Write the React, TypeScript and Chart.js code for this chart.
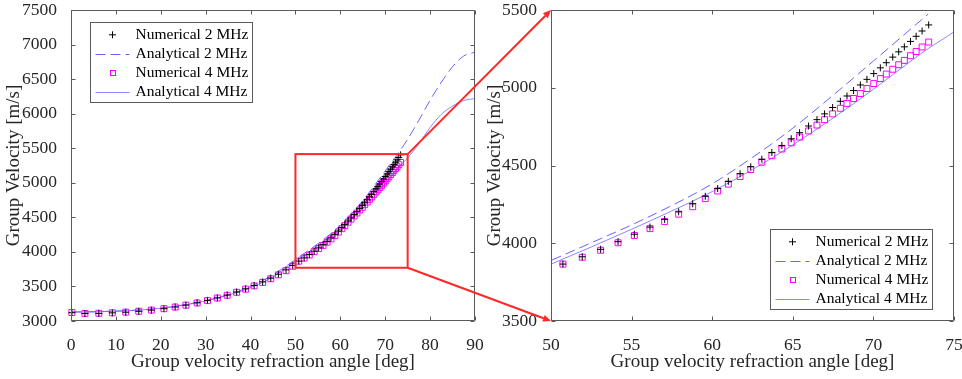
import React, { useEffect, useRef } from "react";
import { Chart, registerables } from "chart.js";
Chart.register(...registerables);

// ---------- data ----------
const seriesLabels = ["Numerical 2 MHz", "Analytical 2 MHz", "Numerical 4 MHz", "Analytical 4 MHz"];

const numAngle = [0.2, 3.1, 6.2, 9.2, 12.2, 15.1, 17.9, 20.7, 23.2, 25.6, 28.1, 30.4, 32.6, 34.8, 36.9, 38.9, 40.8, 42.7, 44.5, 46.2, 47.9, 49.4,
  50.74, 51.94, 53.08, 54.16, 55.17, 56.14, 57.05, 57.92, 58.79, 59.57, 60.34,
  61.0, 61.73, 62.39, 63.08, 63.7, 64.32, 64.9, 65.42, 65.98, 66.5, 66.97, 67.47, 67.95, 68.36, 68.77, 69.19, 69.6, 70.02, 70.43, 70.8, 71.2, 71.57, 71.92, 72.3, 72.65, 73.02, 73.43];

const num2MHz = [3120, 3108, 3110, 3118, 3127, 3140, 3157, 3178, 3203, 3230, 3263, 3298, 3335, 3376, 3420, 3466, 3514, 3566, 3620, 3677, 3740, 3804,
  3866, 3913, 3961, 4010, 4058, 4104, 4153, 4202, 4254, 4302, 4352,
  4398, 4447, 4492, 4540, 4584, 4629, 4672, 4711, 4754, 4795, 4832, 4873, 4913, 4947, 4982, 5018, 5054, 5091, 5128, 5161, 5197, 5231, 5263, 5298, 5331, 5365, 5404];

const num4MHz = [3122, 3110, 3112, 3119, 3128, 3141, 3158, 3178, 3202, 3229, 3261, 3295, 3332, 3372, 3415, 3461, 3508, 3558, 3611, 3667, 3728, 3792,
  3866, 3910, 3955, 4003, 4050, 4094, 4140, 4187, 4235, 4287, 4336,
  4380, 4429, 4474, 4521, 4563, 4606, 4646, 4683, 4722, 4760, 4795, 4832, 4868, 4899, 4931, 4963, 4995, 5027, 5059, 5088, 5119, 5148, 5176, 5206, 5233, 5262, 5294];

const anaAngle = [0, 2.5, 5, 7.5, 10, 12.5, 15, 17.5, 20, 22.5, 25, 27.5, 30, 32.5, 35, 37.5, 40, 42.5, 45, 47.5, 50, 52.5, 55, 57.5, 60, 62.5, 65, 67.5, 70, 72.5, 73.4, 75, 77.5, 80, 82.5, 85, 87.5, 90];
const ana2MHz = [3131, 3132, 3134, 3138, 3143, 3150, 3159, 3171, 3187, 3207, 3232, 3262, 3296, 3334, 3380, 3435, 3500, 3578, 3668, 3775, 3889, 4003, 4118, 4243, 4382, 4552, 4740, 4952, 5172, 5394, 5474, 5630, 5905, 6195, 6455, 6680, 6835, 6890];
const ana4MHz = [3129, 3130, 3132, 3136, 3141, 3148, 3157, 3169, 3184, 3203, 3227, 3256, 3289, 3328, 3373, 3424, 3482, 3555, 3640, 3750, 3866, 3976, 4090, 4208, 4332, 4474, 4632, 4805, 4990, 5185, 5252, 5360, 5565, 5800, 5990, 6110, 6190, 6220];

const mainXTicks = [0, 10, 20, 30, 40, 50, 60, 70, 80, 90];
const mainYTicks = [3000, 3500, 4000, 4500, 5000, 5500, 6000, 6500, 7000, 7500];
const zoomXTicks = [50, 55, 60, 65, 70, 75];
const zoomYTicks = [3500, 4000, 4500, 5000, 5500];

const zoomBoxX = [50, 75];
const zoomBoxY = [3770, 5415];
const zoomDashedEnd = 73.4;

const xTitle = "Group velocity refraction angle [deg]";
const yTitle = "Group Velocity [m/s]";

// ---------- styles ----------
const FONT = '"Liberation Serif", "Times New Roman", serif';
const AXIS_COLOR = "#262626";
const FRAME_COLOR = "#5a5a5a";
const RED = "rgb(255,40,40)";
const DASH_COLOR = "rgb(100,100,255)";
const SOLID_COLOR = "rgb(135,135,255)";
const SQUARE_COLOR = "#ff00ff";
const CROSS_COLOR = "#000000";

const pts = (xs: number[], ys: number[], maxX = Infinity) =>
  xs.map((x, i) => ({ x, y: ys[i] })).filter((p) => p.x <= maxX);

function buildDatasets(dashedMax: number) {
  return [
    {
      label: seriesLabels[0], data: pts(numAngle, num2MHz), showLine: false,
      pointStyle: "cross", pointRadius: 3.5, pointBorderWidth: 1, borderColor: CROSS_COLOR,
      pointBorderColor: CROSS_COLOR, backgroundColor: CROSS_COLOR, clip: false, order: 0,
    },
    {
      label: seriesLabels[1], data: pts(anaAngle, ana2MHz, dashedMax), showLine: true,
      pointRadius: 0, borderColor: DASH_COLOR, borderWidth: 1, borderDash: [10, 5],
      cubicInterpolationMode: "monotone", fill: false, order: 2,
    },
    {
      label: seriesLabels[2], data: pts(numAngle, num4MHz), showLine: false,
      pointStyle: "rect", pointRadius: 4.2, pointBorderWidth: 1, borderColor: SQUARE_COLOR,
      pointBorderColor: SQUARE_COLOR, backgroundColor: "rgba(0,0,0,0)", pointBackgroundColor: "rgba(0,0,0,0)", clip: false, order: 1,
    },
    {
      label: seriesLabels[3], data: pts(anaAngle, ana4MHz), showLine: true,
      pointRadius: 0, borderColor: SOLID_COLOR, borderWidth: 1,
      cubicInterpolationMode: "monotone", fill: false, order: 3,
    },
  ];
}

const framePlugin = {
  id: "frame",
  afterDatasetsDraw(chart: any) {
    const { ctx, chartArea: ca, scales } = chart;
    const L = Math.round(ca.left) + 0.5, R = Math.round(ca.right) - 0.5;
    const T = Math.round(ca.top) + 0.5, B = Math.round(ca.bottom) - 0.5;
    ctx.save();
    ctx.strokeStyle = FRAME_COLOR;
    ctx.lineWidth = 1;
    ctx.beginPath();
    ctx.rect(L, T, R - L, B - T);
    const tl = 4;
    for (const t of scales.x.ticks) {
      const px = Math.round(scales.x.getPixelForValue(t.value)) + 0.5;
      ctx.moveTo(px, B); ctx.lineTo(px, B - tl);
      ctx.moveTo(px, T); ctx.lineTo(px, T + tl);
    }
    for (const t of scales.y.ticks) {
      const py = Math.round(scales.y.getPixelForValue(t.value)) + 0.5;
      ctx.moveTo(L, py); ctx.lineTo(L + tl, py);
      ctx.moveTo(R, py); ctx.lineTo(R - tl, py);
    }
    ctx.stroke();
    ctx.restore();
  },
};

const boxPlugin = {
  id: "zoombox",
  afterDatasetsDraw(chart: any) {
    if (!chart.options.plugins.zoombox?.show) return;
    const { ctx, scales } = chart;
    const x0 = scales.x.getPixelForValue(zoomBoxX[0]);
    const x1 = scales.x.getPixelForValue(zoomBoxX[1]);
    const y0 = scales.y.getPixelForValue(zoomBoxY[1]);
    const y1 = scales.y.getPixelForValue(zoomBoxY[0]);
    ctx.save();
    ctx.strokeStyle = RED;
    ctx.lineWidth = 2;
    ctx.strokeRect(x0, y0, x1 - x0, y1 - y0);
    ctx.restore();
  },
};

const legendPlugin = {
  id: "boxlegend",
  afterDraw(chart: any) {
    const o = chart.options.plugins.boxlegend;
    if (!o) return;
    const { ctx, chartArea: ca } = chart;
    const w = 162, h = 80;
    const x0 = Math.round(o.corner === "tl" ? ca.left + 19 : ca.right - 22 - w) + 0.5;
    const y0 = Math.round(o.corner === "tl" ? ca.top + 12 : ca.bottom - 12 - h) + 0.5;
    ctx.save();
    ctx.fillStyle = "#fff";
    ctx.fillRect(x0, y0, w, h);
    ctx.strokeStyle = FRAME_COLOR;
    ctx.lineWidth = 1;
    ctx.strokeRect(x0, y0, w, h);
    chart.data.datasets.forEach((ds: any, i: number) => {
      const cy = y0 + 12.3 + i * 19;
      const sx0 = x0 + 5, sx1 = x0 + 39, cx = (sx0 + sx1) / 2;
      ctx.save();
      if (ds.showLine) {
        ctx.strokeStyle = ds.borderColor;
        ctx.lineWidth = 1;
        ctx.setLineDash(ds.borderDash || []);
        ctx.beginPath();
        ctx.moveTo(sx0, Math.round(cy) + 0.5);
        ctx.lineTo(sx1, Math.round(cy) + 0.5);
        ctx.stroke();
      } else if (ds.pointStyle === "cross") {
        ctx.strokeStyle = ds.borderColor;
        ctx.lineWidth = 1;
        ctx.beginPath();
        ctx.moveTo(cx - 3.5, cy); ctx.lineTo(cx + 3.5, cy);
        ctx.moveTo(cx, cy - 3.5); ctx.lineTo(cx, cy + 3.5);
        ctx.stroke();
      } else {
        ctx.strokeStyle = ds.borderColor;
        ctx.lineWidth = 1;
        ctx.strokeRect(Math.round(cx) - 2.5, Math.round(cy) - 2.5, 5, 5);
      }
      ctx.restore();
      ctx.fillStyle = "#000";
      ctx.font = `15.5px ${FONT}`;
      ctx.textBaseline = "middle";
      ctx.textAlign = "left";
      ctx.fillText(ds.label, x0 + 45, cy);
    });
    ctx.restore();
  },
};

function buildConfig(opts: {
  xMin: number; xMax: number; yMin: number; yMax: number;
  xTicks: number[]; yTicks: number[]; yAxisWidth: number; padRight: number;
  corner: "tl" | "br"; showBox: boolean; dashedMax: number;
}): any {
  const tickFont = { family: FONT, size: 17.5 };
  const titleFont = { family: FONT, size: 19 };
  return {
    type: "scatter",
    data: { datasets: buildDatasets(opts.dashedMax) },
    options: {
      responsive: false,
      animation: false,
      devicePixelRatio: 1,
      layout: { padding: { left: 0, right: opts.padRight, top: 10, bottom: 0 } },
      plugins: {
        legend: { display: false },
        tooltip: { enabled: false },
        boxlegend: { corner: opts.corner },
        zoombox: { show: opts.showBox },
      },
      scales: {
        x: {
          type: "linear", min: opts.xMin, max: opts.xMax,
          afterBuildTicks: (s: any) => { s.ticks = opts.xTicks.map((v) => ({ value: v })); },
          grid: { display: false }, border: { display: false },
          ticks: { font: tickFont, color: AXIS_COLOR, padding: 6, maxRotation: 0, autoSkip: false, callback: (v: any) => String(v) },
          title: { display: true, text: xTitle, font: titleFont, color: AXIS_COLOR, padding: { top: 0, bottom: 6 } },
          afterFit: (s: any) => { s.height = 58; s.paddingLeft = 0; s.paddingRight = 0; },
        },
        y: {
          type: "linear", min: opts.yMin, max: opts.yMax,
          afterBuildTicks: (s: any) => { s.ticks = opts.yTicks.map((v) => ({ value: v })); },
          grid: { display: false }, border: { display: false },
          ticks: { font: tickFont, color: AXIS_COLOR, padding: 6, autoSkip: false, callback: (v: any) => String(v) },
          title: { display: true, text: yTitle, font: titleFont, color: AXIS_COLOR, padding: { top: 3, bottom: 0 } },
          afterFit: (s: any) => { s.width = opts.yAxisWidth; s.paddingTop = 0; s.paddingBottom = 0; },
        },
      },
    },
    plugins: [framePlugin, boxPlugin, legendPlugin],
  };
}

function drawArrow(ctx: CanvasRenderingContext2D, x0: number, y0: number, x1: number, y1: number) {
  const ang = Math.atan2(y1 - y0, x1 - x0);
  const head = 8, half = 3.5;
  const bx = x1 - head * Math.cos(ang), by = y1 - head * Math.sin(ang);
  ctx.beginPath();
  ctx.moveTo(x0, y0);
  ctx.lineTo(bx, by);
  ctx.stroke();
  ctx.beginPath();
  ctx.moveTo(x1, y1);
  ctx.lineTo(bx + half * Math.sin(ang), by - half * Math.cos(ang));
  ctx.lineTo(bx - half * Math.sin(ang), by + half * Math.cos(ang));
  ctx.closePath();
  ctx.fill();
}

const LEFT_W = 500;
const RIGHT_X = 481;
const RIGHT_W = 481;

export default function App() {
  const leftRef = useRef<HTMLCanvasElement>(null);
  const rightRef = useRef<HTMLCanvasElement>(null);
  const ovRef = useRef<HTMLCanvasElement>(null);

  useEffect(() => {
    const left = new Chart(leftRef.current!, buildConfig({
      xMin: 0, xMax: 90, yMin: 3000, yMax: 7500, xTicks: mainXTicks, yTicks: mainYTicks,
      yAxisWidth: 71, padRight: LEFT_W - 475, corner: "tl", showBox: true, dashedMax: Infinity,
    }));
    const right = new Chart(rightRef.current!, buildConfig({
      xMin: 50, xMax: 75, yMin: 3500, yMax: 5500, xTicks: zoomXTicks, yTicks: zoomYTicks,
      yAxisWidth: 70, padRight: 8, corner: "br", showBox: false, dashedMax: zoomDashedEnd,
    }));
    const ov = ovRef.current!;
    const ctx = ov.getContext("2d")!;
    ctx.clearRect(0, 0, ov.width, ov.height);
    ctx.save();
    ctx.strokeStyle = RED;
    ctx.fillStyle = RED;
    ctx.lineWidth = 2;
    const lsx = left.scales.x, lsy = left.scales.y, rsx = right.scales.x, rsy = right.scales.y;
    const fromX = lsx.getPixelForValue(zoomBoxX[1]);
    const toX = RIGHT_X + rsx.getPixelForValue(rsx.min);
    drawArrow(ctx, fromX, lsy.getPixelForValue(zoomBoxY[1]), toX, rsy.getPixelForValue(rsy.max));
    drawArrow(ctx, fromX, lsy.getPixelForValue(zoomBoxY[0]), toX, rsy.getPixelForValue(rsy.min));
    ctx.restore();
    return () => {
      left.destroy();
      right.destroy();
    };
  }, []);

  return (
    <div style={{ position: "fixed", left: 0, top: 0, width: 962, height: 379, background: "#fff" }}>
      <canvas ref={leftRef} width={LEFT_W} height={379} style={{ position: "absolute", left: 0, top: 0, width: LEFT_W, height: 379 }} />
      <canvas ref={rightRef} width={RIGHT_W} height={379} style={{ position: "absolute", left: RIGHT_X, top: 0, width: RIGHT_W, height: 379 }} />
      <canvas ref={ovRef} width={962} height={379} style={{ position: "absolute", left: 0, top: 0, width: 962, height: 379, pointerEvents: "none" }} />
    </div>
  );
}
